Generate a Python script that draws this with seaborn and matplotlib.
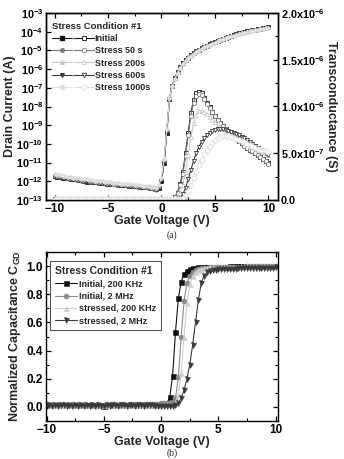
import matplotlib
matplotlib.use("Agg")
import matplotlib.pyplot as plt
import numpy as np
import pandas as pd
import seaborn as sns
from matplotlib.legend_handler import HandlerTuple
from matplotlib.lines import Line2D
from matplotlib.ticker import FuncFormatter, LogLocator, MultipleLocator, NullLocator

# gate voltage sweep, -10 V .. 10 V in 0.25 V steps
GATE_VOLTAGE = np.linspace(-10, 10, 81)

STRESS_LABELS = ["Initial", "Stress 50 s", "Stress 200s", "Stress 600s", "Stress 1000s"]

# drain current, log10(A)
ID_INITIAL_LOG = [
    -11.72, -11.75, -11.78, -11.80, -11.82, -11.85, -11.86, -11.90, -11.90, -11.93,
    -11.95, -11.97, -12.05, -12.00, -12.02, -12.05, -12.06, -12.08, -12.10, -12.10,
    -12.15, -12.13, -12.15, -12.17, -12.18, -12.20, -12.20, -12.22, -12.23, -12.25,
    -12.25, -12.27, -12.28, -12.30, -12.30, -12.32, -12.35, -12.38, -12.42, -12.35,
    -12.00, -11.00, -9.40, -7.60, -6.90, -6.50, -6.15, -5.90, -5.70, -5.52,
    -5.38, -5.25, -5.14, -5.05, -4.97, -4.89, -4.81, -4.74, -4.67, -4.60,
    -4.54, -4.48, -4.42, -4.37, -4.32, -4.27, -4.22, -4.17, -4.13, -4.09,
    -4.05, -4.01, -3.98, -3.95, -3.92, -3.89, -3.86, -3.83, -3.80, -3.78, -3.76,
]
ID_50S_LOG = [
    -11.70, -11.74, -11.76, -11.79, -11.83, -11.84, -11.88, -11.89, -11.92, -11.94,
    -11.96, -11.99, -12.00, -12.03, -12.04, -12.05, -12.08, -12.09, -12.11, -12.12,
    -12.13, -12.15, -12.16, -12.18, -12.19, -12.20, -12.22, -12.23, -12.24, -12.26,
    -12.27, -12.28, -12.30, -12.31, -12.32, -12.34, -12.36, -12.40, -12.44, -12.30,
    -11.90, -10.90, -9.30, -7.55, -6.88, -6.48, -6.14, -5.89, -5.69, -5.52,
    -5.37, -5.25, -5.14, -5.05, -4.96, -4.88, -4.81, -4.74, -4.67, -4.60,
    -4.54, -4.48, -4.42, -4.37, -4.32, -4.27, -4.22, -4.18, -4.13, -4.09,
    -4.05, -4.02, -3.98, -3.95, -3.92, -3.89, -3.86, -3.83, -3.81, -3.78, -3.76,
]
ID_200S_LOG = [
    -11.66, -11.70, -11.72, -11.75, -11.78, -11.80, -11.82, -11.85, -11.87, -11.89,
    -11.91, -11.93, -11.95, -11.97, -11.99, -12.01, -12.02, -12.04, -12.06, -12.07,
    -12.09, -12.10, -12.12, -12.13, -12.15, -12.16, -12.17, -12.19, -12.20, -12.21,
    -12.23, -12.24, -12.25, -12.27, -12.28, -12.30, -12.32, -12.35, -12.38, -12.25,
    -11.85, -10.85, -9.25, -7.55, -6.90, -6.50, -6.16, -5.91, -5.71, -5.53,
    -5.39, -5.26, -5.15, -5.06, -4.97, -4.89, -4.82, -4.75, -4.68, -4.61,
    -4.55, -4.49, -4.43, -4.38, -4.33, -4.28, -4.23, -4.18, -4.14, -4.10,
    -4.06, -4.02, -3.99, -3.96, -3.93, -3.90, -3.87, -3.84, -3.81, -3.79, -3.77,
]
ID_600S_LOG = [
    -11.74, -11.76, -11.79, -11.82, -11.84, -11.86, -11.88, -11.91, -11.93, -11.95,
    -11.97, -11.99, -12.02, -12.03, -12.05, -12.06, -12.08, -12.10, -12.11, -12.13,
    -12.14, -12.16, -12.17, -12.19, -12.20, -12.22, -12.23, -12.24, -12.26, -12.27,
    -12.29, -12.30, -12.31, -12.33, -12.34, -12.36, -12.38, -12.42, -12.45, -12.32,
    -11.95, -10.95, -9.35, -7.60, -6.92, -6.52, -6.17, -5.92, -5.72, -5.54,
    -5.40, -5.27, -5.16, -5.06, -4.98, -4.90, -4.82, -4.75, -4.68, -4.62,
    -4.56, -4.50, -4.44, -4.38, -4.33, -4.28, -4.23, -4.19, -4.14, -4.10,
    -4.06, -4.03, -3.99, -3.96, -3.93, -3.90, -3.87, -3.84, -3.82, -3.79, -3.77,
]
ID_1000S_LOG = [
    -11.62, -11.65, -11.68, -11.71, -11.73, -11.76, -11.78, -11.80, -11.82, -11.84,
    -11.86, -11.88, -11.90, -11.92, -11.94, -11.96, -11.98, -11.99, -12.01, -12.03,
    -12.04, -12.06, -12.07, -12.09, -12.10, -12.12, -12.13, -12.15, -12.16, -12.17,
    -12.19, -12.20, -12.22, -12.23, -12.24, -12.26, -12.28, -12.31, -12.34, -12.20,
    -11.80, -10.80, -9.20, -7.55, -6.93, -6.53, -6.19, -5.94, -5.74, -5.56,
    -5.42, -5.29, -5.18, -5.08, -5.00, -4.92, -4.84, -4.77, -4.70, -4.64,
    -4.58, -4.52, -4.46, -4.40, -4.35, -4.30, -4.25, -4.21, -4.16, -4.12,
    -4.08, -4.05, -4.01, -3.98, -3.95, -3.92, -3.89, -3.86, -3.84, -3.81, -3.79,
]

# transconductance, units of 1e-6 S
GM_INITIAL = [
    0.01, 0.01, 0.01, 0.01, 0.01, 0.01, 0.01, 0.01, 0.01, 0.01,
    0.01, 0.01, 0.01, 0.01, 0.01, 0.01, 0.01, 0.01, 0.01, 0.01,
    0.01, 0.01, 0.01, 0.01, 0.01, 0.01, 0.01, 0.01, 0.01, 0.01,
    0.01, 0.01, 0.01, 0.01, 0.01, 0.01, 0.01, 0.01, 0.01, 0.01,
    0.01, 0.01, 0.01, 0.01, 0.01, 0.03, 0.08, 0.17, 0.30, 0.50,
    0.72, 0.93, 1.07, 1.14, 1.16, 1.14, 1.09, 1.04, 0.99, 0.94,
    0.90, 0.86, 0.82, 0.79, 0.76, 0.73, 0.71, 0.68, 0.66, 0.63,
    0.61, 0.59, 0.56, 0.54, 0.52, 0.50, 0.48, 0.46, 0.44, 0.42, 0.40,
]
GM_50S = [
    0.01, 0.01, 0.01, 0.01, 0.01, 0.01, 0.01, 0.01, 0.01, 0.01,
    0.01, 0.01, 0.01, 0.01, 0.01, 0.01, 0.01, 0.01, 0.01, 0.01,
    0.01, 0.01, 0.01, 0.01, 0.01, 0.01, 0.01, 0.01, 0.01, 0.01,
    0.01, 0.01, 0.01, 0.01, 0.01, 0.01, 0.01, 0.01, 0.01, 0.01,
    0.01, 0.01, 0.01, 0.01, 0.01, 0.03, 0.07, 0.16, 0.28, 0.47,
    0.69, 0.90, 1.04, 1.11, 1.13, 1.12, 1.08, 1.03, 0.98, 0.94,
    0.90, 0.86, 0.82, 0.79, 0.76, 0.73, 0.70, 0.68, 0.65, 0.63,
    0.61, 0.58, 0.56, 0.54, 0.52, 0.50, 0.48, 0.46, 0.44, 0.42, 0.39,
]
GM_200S = [
    0.01, 0.01, 0.01, 0.01, 0.01, 0.01, 0.01, 0.01, 0.01, 0.01,
    0.01, 0.01, 0.01, 0.01, 0.01, 0.01, 0.01, 0.01, 0.01, 0.01,
    0.01, 0.01, 0.01, 0.01, 0.01, 0.01, 0.01, 0.01, 0.01, 0.01,
    0.01, 0.01, 0.01, 0.01, 0.01, 0.01, 0.01, 0.01, 0.01, 0.01,
    0.01, 0.01, 0.01, 0.01, 0.01, 0.01, 0.03, 0.08, 0.16, 0.30,
    0.48, 0.67, 0.82, 0.91, 0.95, 0.96, 0.94, 0.92, 0.89, 0.86,
    0.83, 0.81, 0.78, 0.76, 0.74, 0.72, 0.70, 0.69, 0.67, 0.66,
    0.64, 0.63, 0.61, 0.59, 0.57, 0.56, 0.54, 0.53, 0.51, 0.50, 0.48,
]
GM_600S = [
    0.01, 0.01, 0.01, 0.01, 0.01, 0.01, 0.01, 0.01, 0.01, 0.01,
    0.01, 0.01, 0.01, 0.01, 0.01, 0.01, 0.01, 0.01, 0.01, 0.01,
    0.01, 0.01, 0.01, 0.01, 0.01, 0.01, 0.01, 0.01, 0.01, 0.01,
    0.01, 0.01, 0.01, 0.01, 0.01, 0.01, 0.01, 0.01, 0.01, 0.01,
    0.01, 0.01, 0.01, 0.01, 0.01, 0.01, 0.01, 0.02, 0.06, 0.13,
    0.22, 0.32, 0.42, 0.50, 0.57, 0.62, 0.66, 0.69, 0.72, 0.74,
    0.75, 0.76, 0.76, 0.76, 0.75, 0.74, 0.73, 0.72, 0.71, 0.69,
    0.67, 0.66, 0.64, 0.62, 0.60, 0.58, 0.56, 0.54, 0.52, 0.50, 0.48,
]
GM_1000S = [
    0.01, 0.01, 0.01, 0.01, 0.01, 0.01, 0.01, 0.01, 0.01, 0.01,
    0.01, 0.01, 0.01, 0.01, 0.01, 0.01, 0.01, 0.01, 0.01, 0.01,
    0.01, 0.01, 0.01, 0.01, 0.01, 0.01, 0.01, 0.01, 0.01, 0.01,
    0.01, 0.01, 0.01, 0.01, 0.01, 0.01, 0.01, 0.01, 0.01, 0.01,
    0.01, 0.01, 0.01, 0.01, 0.01, 0.01, 0.01, 0.01, 0.02, 0.05,
    0.10, 0.16, 0.23, 0.30, 0.37, 0.43, 0.49, 0.54, 0.58, 0.61,
    0.64, 0.66, 0.67, 0.68, 0.68, 0.68, 0.67, 0.66, 0.65, 0.64,
    0.63, 0.62, 0.60, 0.59, 0.58, 0.56, 0.55, 0.54, 0.53, 0.52, 0.51,
]

CV_LABELS = ["Initial, 200 KHz", "Initial, 2 MHz", "stressed, 200 KHz", "stressed, 2 MHz"]

# normalized C_GD
C_INIT_200K = [
    0.015, 0.012, 0.016, 0.014, 0.013, 0.017, 0.015, 0.012, 0.014, 0.016,
    0.013, 0.015, 0.014, 0.012, 0.016, 0.014, 0.013, 0.015, 0.014, 0.012,
    0.010, 0.014, 0.015, 0.013, 0.016, 0.014, 0.015, 0.013, 0.016, 0.015,
    0.014, 0.016, 0.015, 0.017, 0.016, 0.018, 0.017, 0.019, 0.020, 0.021,
    0.022, 0.024, 0.028, 0.070, 0.220, 0.530, 0.770, 0.890, 0.945, 0.968,
    0.978, 0.984, 0.988, 0.990, 0.992, 0.993, 0.994, 0.995, 0.995, 0.996,
    0.996, 0.997, 0.997, 0.997, 0.998, 0.998, 0.998, 0.998, 0.999, 0.999,
    0.999, 0.999, 0.999, 1.000, 1.000, 1.000, 1.000, 1.000, 1.000, 1.000, 1.000,
]
C_INIT_2M = [
    0.018, 0.016, 0.019, 0.017, 0.018, 0.016, 0.019, 0.017, 0.016, 0.018,
    0.017, 0.019, 0.016, 0.018, 0.017, 0.016, 0.018, 0.017, 0.019, 0.017,
    0.015, 0.018, 0.017, 0.019, 0.018, 0.016, 0.018, 0.019, 0.017, 0.018,
    0.019, 0.018, 0.020, 0.019, 0.021, 0.020, 0.022, 0.021, 0.023, 0.024,
    0.025, 0.026, 0.028, 0.030, 0.035, 0.060, 0.210, 0.500, 0.750, 0.880,
    0.930, 0.958, 0.970, 0.978, 0.983, 0.986, 0.988, 0.990, 0.991, 0.992,
    0.993, 0.994, 0.994, 0.995, 0.995, 0.996, 0.996, 0.997, 0.997, 0.997,
    0.998, 0.998, 0.998, 0.998, 0.999, 0.999, 0.999, 0.999, 1.000, 1.000, 1.000,
]
C_STRESS_200K = [
    0.012, 0.014, 0.011, 0.013, 0.012, 0.014, 0.013, 0.011, 0.013, 0.012,
    0.014, 0.012, 0.013, 0.011, 0.013, 0.012, 0.014, 0.012, 0.013, 0.011,
    0.012, 0.013, 0.012, 0.014, 0.013, 0.012, 0.014, 0.013, 0.012, 0.014,
    0.013, 0.015, 0.014, 0.013, 0.015, 0.014, 0.016, 0.015, 0.017, 0.016,
    0.017, 0.018, 0.019, 0.020, 0.022, 0.030, 0.090, 0.240, 0.500, 0.740,
    0.870, 0.930, 0.960, 0.974, 0.982, 0.986, 0.989, 0.991, 0.992, 0.993,
    0.994, 0.995, 0.995, 0.996, 0.996, 0.997, 0.997, 0.997, 0.998, 0.998,
    0.998, 0.998, 0.999, 0.999, 0.999, 0.999, 1.000, 1.000, 1.000, 1.000, 1.000,
]
C_STRESS_2M = [
    0.010, 0.012, 0.009, 0.011, 0.010, 0.012, 0.011, 0.009, 0.011, 0.010,
    0.012, 0.010, 0.011, 0.009, 0.011, 0.010, 0.012, 0.010, 0.011, 0.009,
    0.006, 0.011, 0.010, 0.012, 0.011, 0.010, 0.012, 0.011, 0.010, 0.012,
    0.011, 0.010, 0.012, 0.011, 0.010, 0.011, 0.012, 0.011, 0.010, 0.009,
    0.008, 0.007, 0.006, 0.007, 0.010, 0.015, 0.030, 0.060, 0.120, 0.200,
    0.300, 0.440, 0.600, 0.760, 0.880, 0.930, 0.955, 0.965, 0.970, 0.974,
    0.976, 0.978, 0.979, 0.980, 0.981, 0.982, 0.982, 0.983, 0.984, 0.984,
    0.985, 0.985, 0.986, 0.986, 0.987, 0.987, 0.988, 0.988, 0.989, 0.989, 0.990,
]

ID_SERIES = [ID_INITIAL_LOG, ID_50S_LOG, ID_200S_LOG, ID_600S_LOG, ID_1000S_LOG]
GM_SERIES = [GM_INITIAL, GM_50S, GM_200S, GM_600S, GM_1000S]
CV_SERIES = [C_INIT_200K, C_INIT_2M, C_STRESS_200K, C_STRESS_2M]

STRESS_COLORS = ["#111111", "#7a7a7a", "#c8c8c8", "#3a3a3a", "#dedede"]
STRESS_MARKERS = ["s", "o", "^", "v", "D"]
CV_COLORS = ["#111111", "#8a8a8a", "#cdcdcd", "#3a3a3a"]
CV_MARKERS = ["s", "o", "^", "v"]

sns.set_style("ticks", {"xtick.direction": "in", "ytick.direction": "in"})
plt.rcParams["font.family"] = ["Liberation Sans", "DejaVu Sans"]
plt.rcParams["font.weight"] = "bold"
plt.rcParams["axes.labelweight"] = "bold"
plt.rcParams["mathtext.fontset"] = "custom"
plt.rcParams["mathtext.rm"] = "Liberation Sans:bold"
plt.rcParams["mathtext.bf"] = "Liberation Sans:bold"
plt.rcParams["mathtext.default"] = "bf"
plt.rcParams["axes.linewidth"] = 1.0
plt.rcParams["axes.edgecolor"] = "black"


def log_label(v, _pos):
    return f"10$^{{{int(round(np.log10(v)))}}}$"


def sci_label(v, _pos):
    if abs(v) < 1e-12:
        return "0.0"
    if v < 0:
        return ""
    exp = int(np.floor(np.log10(v) + 1e-9))
    return f"{v / 10 ** exp:.1f}x10$^{{{exp}}}$"


def style_axis(ax, size=8.5):
    for spine in ax.spines.values():
        spine.set_visible(True)
        spine.set_color("black")
        spine.set_linewidth(1.0)
    ax.tick_params(which="both", direction="in", colors="black", labelsize=size, pad=2)
    ax.tick_params(which="major", length=3.5, width=0.9)
    ax.tick_params(which="minor", length=2, width=0.8)


fig = plt.figure(figsize=(3.44, 4.59), dpi=100)
ax_id = fig.add_axes([46 / 344, 1 - 200 / 459, 232 / 344, 187 / 459])
ax_gm = ax_id.twinx()
ax_cv = fig.add_axes([46 / 344, 1 - 421 / 459, 232 / 344, 169 / 459])

# (a) transfer curves
ax_id.set_yscale("log")
id_frames = []
gm_frames = []
for label, id_log, gm in zip(STRESS_LABELS, ID_SERIES, GM_SERIES):
    id_frames.append(pd.DataFrame({"vg": GATE_VOLTAGE, "id": 10 ** np.array(id_log), "stress": label}))
    gm_frames.append(pd.DataFrame({"vg": GATE_VOLTAGE, "gm": np.array(gm) * 1e-6, "stress": label}))

for df, color, marker in zip(id_frames, STRESS_COLORS, STRESS_MARKERS):
    sns.lineplot(
        data=df, x="vg", y="id", ax=ax_id, color=color, linewidth=0.8,
        marker=marker, markersize=2.4, markeredgecolor=color, markerfacecolor=color,
        markeredgewidth=0.5, legend=False,
    )
for df, color, marker in zip(gm_frames, STRESS_COLORS, STRESS_MARKERS):
    sns.lineplot(
        data=df, x="vg", y="gm", ax=ax_gm, color=color, linewidth=0.8,
        marker=marker, markersize=3.0, markeredgecolor=color, markerfacecolor="white",
        markeredgewidth=0.6, legend=False,
    )

ax_id.set_xlim(-10.8, 10.9)
ax_id.set_ylim(1e-13, 1e-3)
ax_gm.set_ylim(0, 2e-6)
ax_id.yaxis.set_major_locator(LogLocator(base=10, numticks=20))
ax_id.yaxis.set_minor_locator(NullLocator())
ax_id.yaxis.set_major_formatter(FuncFormatter(log_label))
ax_gm.yaxis.set_major_locator(MultipleLocator(0.5e-6))
ax_gm.yaxis.set_minor_locator(MultipleLocator(0.25e-6))
ax_gm.yaxis.set_major_formatter(FuncFormatter(sci_label))
ax_id.xaxis.set_major_locator(MultipleLocator(5))
ax_id.xaxis.set_minor_locator(MultipleLocator(2.5))
style_axis(ax_id, 8.5)
style_axis(ax_gm, 7.8)
ax_id.tick_params(axis="y", labelsize=7.8)
ax_id.tick_params(axis="x", which="both", top=True)
ax_id.tick_params(axis="y", which="both", right=False)
ax_gm.tick_params(axis="y", which="both", left=False, right=True)
ax_id.set_xlabel("Gate Voltage (V)", fontsize=9, labelpad=0)
ax_id.set_ylabel("Drain Current (A)", fontsize=9, labelpad=0)
ax_gm.set_ylabel("Transconductance (S)", fontsize=9, rotation=270, labelpad=9)

handles = []
for color, marker in zip(STRESS_COLORS, STRESS_MARKERS):
    filled = Line2D([], [], color=color, marker=marker, markersize=2.6, markerfacecolor=color,
                    markeredgecolor=color, linewidth=0.8)
    hollow = Line2D([], [], color=color, marker=marker, markersize=3.2, markerfacecolor="white",
                    markeredgecolor=color, markeredgewidth=0.6, linewidth=0.8)
    handles.append((filled, hollow))
leg = ax_id.legend(
    handles, STRESS_LABELS, handler_map={tuple: HandlerTuple(ndivide=None, pad=0.3)},
    loc="upper left", bbox_to_anchor=(0.0, 0.985), frameon=False, fontsize=6.5,
    title="Stress Condition #1", title_fontsize=6.8, handlelength=4.6, handletextpad=0.1,
    labelspacing=0.35, borderaxespad=0.3, alignment="left",
)
leg.get_title().set_fontweight("bold")

# (b) C-V curves
for label, cv, color, marker in zip(CV_LABELS, CV_SERIES, CV_COLORS, CV_MARKERS):
    df = pd.DataFrame({"vg": GATE_VOLTAGE, "cgd": cv})
    sns.lineplot(
        data=df, x="vg", y="cgd", ax=ax_cv, color=color, linewidth=0.8,
        marker=marker, markersize=3.6, markeredgecolor=color, markerfacecolor=color,
        markeredgewidth=0.4, label=label,
    )

ax_cv.set_xlim(-10.05, 10.2)
ax_cv.set_ylim(-0.1, 1.1)
ax_cv.xaxis.set_major_locator(MultipleLocator(5))
ax_cv.xaxis.set_minor_locator(MultipleLocator(2.5))
ax_cv.yaxis.set_major_locator(MultipleLocator(0.2))
ax_cv.yaxis.set_minor_locator(MultipleLocator(0.1))
ax_cv.yaxis.set_major_formatter(FuncFormatter(lambda v, p: f"{v:.1f}"))
style_axis(ax_cv, 8.5)
ax_cv.tick_params(which="both", top=True, right=True)
ax_cv.set_xlabel("Gate Voltage (V)", fontsize=9, labelpad=0)
ax_cv.set_ylabel("Normalized Capacitance C$_{GD}$", fontsize=9, labelpad=3)

leg2 = ax_cv.legend(
    loc="upper left", bbox_to_anchor=(0.01, 0.955), frameon=True, fancybox=False,
    edgecolor="#555555", framealpha=1, fontsize=6.5, title="Stress Condition #1",
    title_fontsize=7.5, handlelength=2.4, handletextpad=0.2, labelspacing=0.35,
    borderaxespad=0.2, borderpad=0.55, alignment="left",
)
leg2.get_title().set_fontweight("bold")
leg2.get_frame().set_linewidth(0.8)

fig.text(172 / 344, 1 - 235 / 459, "(a)", ha="center", va="center", fontsize=7,
         family="Liberation Serif", fontweight="normal")
fig.text(172 / 344, 1 - 453 / 459, "(b)", ha="center", va="center", fontsize=7,
         family="Liberation Serif", fontweight="normal")

fig.savefig("out.png", dpi=100)
